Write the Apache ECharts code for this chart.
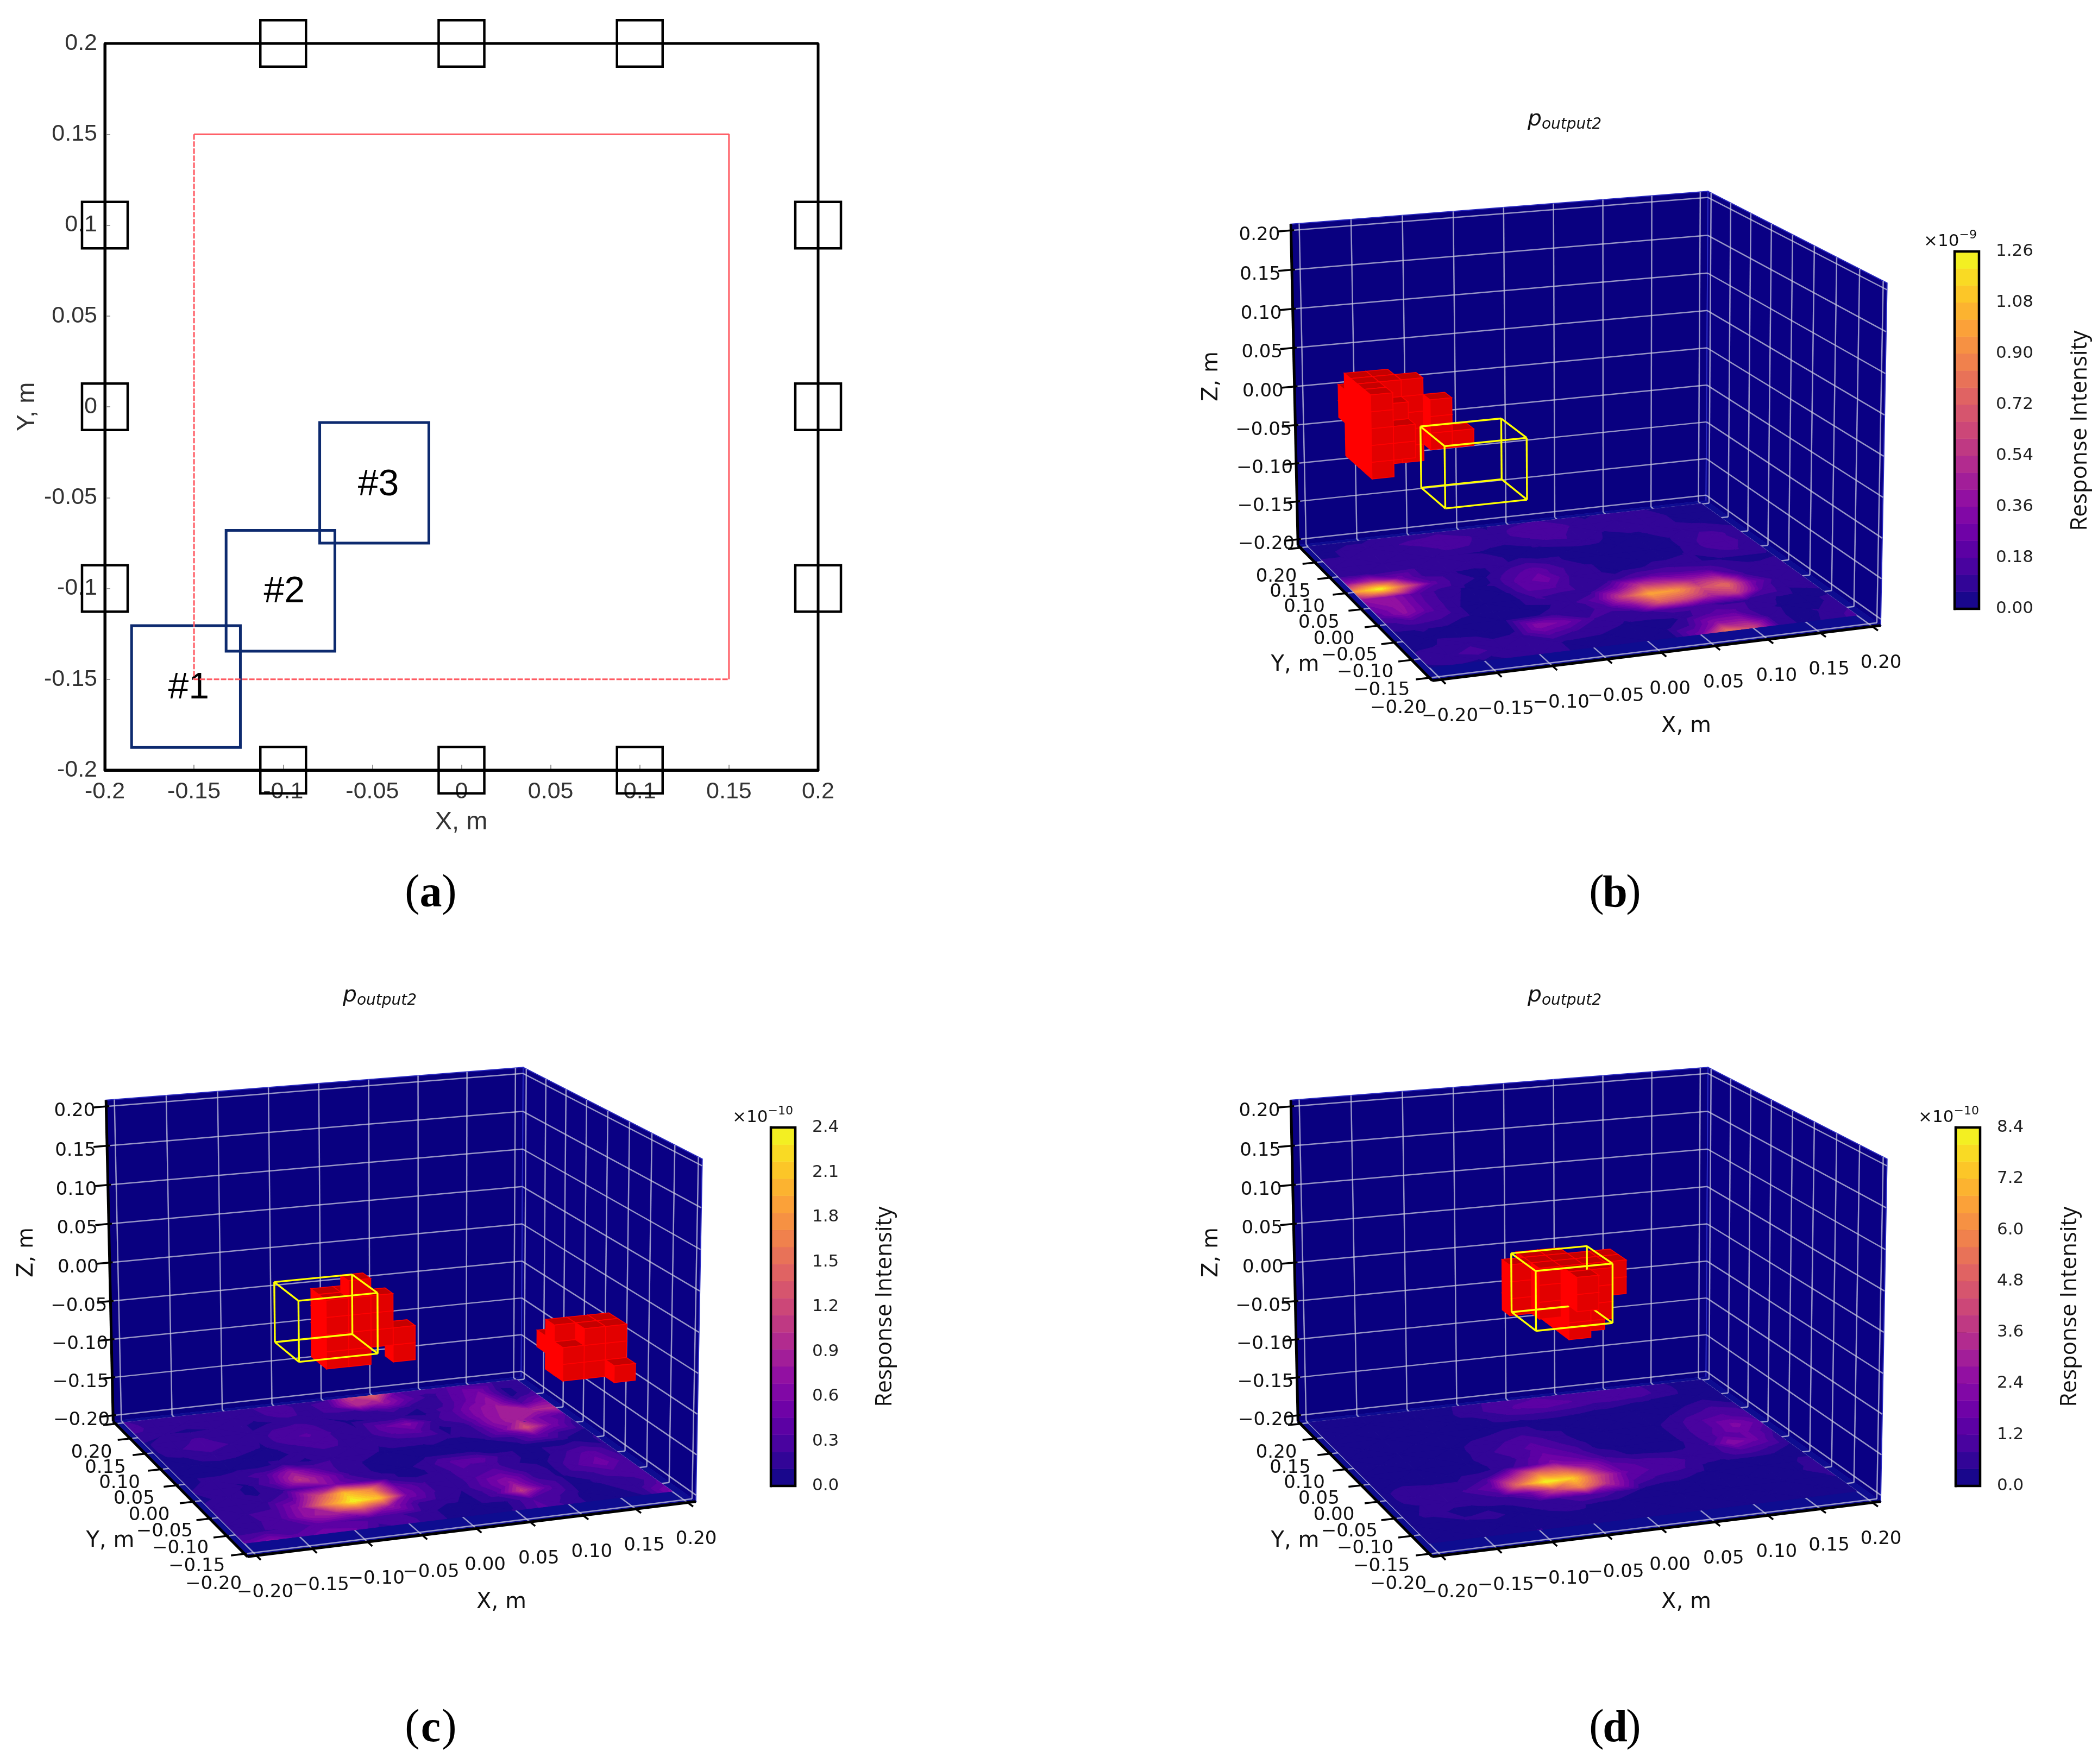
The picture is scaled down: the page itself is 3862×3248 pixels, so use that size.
<!DOCTYPE html>
<html>
<head>
<meta charset="utf-8">
<title>Response intensity</title>
<script src="https://cdn.jsdelivr.net/npm/echarts@6/dist/echarts.min.js"></script>
<style>
html,body{margin:0;padding:0;background:#fff}
#main{width:3862px;height:3248px}
</style>
</head>
<body>
<div id="main"></div>
<script>
// panel (a): layout seen from above, metres
var planTicks = [-0.2, -0.15, -0.1, -0.05, 0, 0.05, 0.1, 0.15, 0.2];
var sensorCentres = [[-0.1, 0.2], [0, 0.2], [0.1, 0.2], [-0.1, -0.2], [0, -0.2], [0.1, -0.2],
    [-0.2, 0.1], [-0.2, 0], [-0.2, -0.1], [0.2, 0.1], [0.2, 0], [0.2, -0.1]];
var sensorSize = 0.0256;
var frameLine = [[-0.2, -0.2], [-0.2, 0.2], [0.2, 0.2], [0.2, -0.2], [-0.2, -0.2]];
var scanSolid = [[-0.15, 0.15], [0.15, 0.15], [0.15, -0.15]];
var scanDashed = [[-0.15, 0.15], [-0.15, -0.15], [0.15, -0.15]];
var targetRects = [[-0.185, -0.124, -0.1875, -0.1205], [-0.132, -0.071, -0.1345, -0.068], [-0.0795, -0.0183, -0.075, -0.0087]];
var targetNames = ['#1', '#2', '#3'];
var targetNamePos = [[-0.153, -0.1548], [-0.0994, -0.102], [-0.0466, -0.0432]];

// 3D panels: axis ticks and floor sample lines
var ticks3d = [-0.2, -0.15, -0.1, -0.05, 0, 0.05, 0.1, 0.15, 0.2];
var floorX = [-0.2, -0.175, -0.15, -0.125, -0.1, -0.075, -0.05, -0.025, 0, 0.025, 0.05, 0.075, 0.1, 0.125, 0.15, 0.175, 0.2];
var floorY = [0.2, 0.175, 0.15, 0.125, 0.1, 0.075, 0.05, 0.025, 0, -0.025, -0.05, -0.075, -0.1, -0.125, -0.15, -0.175];

// floor response, % of the colour bar top, rows follow floorY
var floorB = [
    [3,4,4,6,7,8,6,4,8,10,8,4,6,6,4,2,2],
    [4,5,6,9,11,14,10,6,12,14,10,6,8,7,5,3,2],
    [5,5,5,6,8,11,9,6,9,12,8,5,8,8,5,3,2],
    [7,7,6,6,6,5,4,3,5,6,7,4,3,6,8,7,4],
    [6,5,7,8,7,8,6,3,3,3,3,2,3,4,9,11,7],
    [30,38,22,8,5,4,6,10,6,3,3,2,3,4,10,13,6],
    [75,100,55,16,6,4,12,18,10,5,4,3,3,5,9,10,6],
    [30,32,16,7,4,5,16,22,9,5,4,5,7,5,4,4,4],
    [22,32,15,6,3,3,15,15,6,6,12,16,14,12,8,5,6],
    [16,30,15,5,2,2,10,7,6,22,46,42,34,36,10,5,8],
    [8,12,10,5,2,2,4,8,18,50,80,76,52,62,22,6,8],
    [4,5,4,3,2,4,6,7,12,30,58,52,38,46,14,5,6],
    [3,4,3,2,4,28,22,10,6,8,12,12,8,8,5,3,4],
    [4,5,8,5,6,16,10,7,4,4,5,14,16,6,4,3,6],
    [6,8,12,6,5,5,4,3,3,3,10,30,30,8,3,5,9],
    [4,5,4,5,5,5,3,2,2,3,22,65,50,8,3,6,12]
];
var floorC = [
    [10,6,6,7,6,9,11,7,9,45,60,15,12,14,12,8,6],
    [12,7,6,6,6,8,13,6,14,40,35,18,7,16,24,4,6],
    [7,5,4,5,5,4,7,5,7,7,12,5,8,18,30,4,12],
    [4,8,10,8,5,10,12,8,4,5,5,4,12,26,34,14,26],
    [4,9,13,9,5,13,15,9,5,18,26,8,12,28,36,38,40],
    [3,5,8,6,4,9,12,9,6,14,16,3,8,28,38,22,14],
    [3,3,4,3,3,6,9,8,5,6,7,5,7,22,52,24,6],
    [3,3,3,3,6,4,8,6,4,4,4,4,4,8,20,8,4],
    [3,6,8,12,32,14,7,4,3,3,3,3,3,3,3,3,5],
    [5,9,4,16,44,26,7,4,3,8,16,16,6,3,6,10,5],
    [4,6,4,8,16,24,14,6,3,6,14,12,5,3,10,18,8],
    [6,8,7,16,50,85,70,20,10,5,14,20,8,4,14,22,10],
    [7,9,10,30,70,100,85,24,10,5,16,30,10,4,8,14,10],
    [6,8,14,32,38,50,32,10,6,4,12,45,16,4,5,8,12],
    [8,9,10,16,14,12,10,6,3,3,4,14,10,3,4,6,16],
    [16,26,16,22,20,8,12,6,3,3,5,16,8,3,3,5,26]
];
var floorD = [
    [2,2,2,2,2,2,6,10,13,14,12,11,12,12,6,3,2],
    [2,2,2,2,2,3,7,11,15,18,15,12,13,12,7,3,2],
    [2,2,2,2,2,2,3,7,9,9,8,6,5,4,3,2,2],
    [2,2,2,2,2,2,2,3,3,3,2,2,2,2,4,7,3],
    [2,2,2,2,2,3,5,7,4,3,2,2,2,4,8,12,9],
    [2,2,2,2,2,7,9,13,7,3,2,2,3,8,14,16,10],
    [2,2,2,2,2,8,12,16,10,4,2,2,3,9,14,26,16],
    [2,2,2,2,3,7,10,20,14,5,2,2,3,9,16,20,10],
    [2,2,2,2,3,6,14,26,20,9,4,3,4,8,28,20,5],
    [3,6,5,5,10,35,65,60,35,16,12,10,8,8,14,10,4],
    [3,8,7,10,20,65,100,90,50,20,14,12,5,4,4,3,3],
    [2,5,6,8,10,22,50,70,40,14,8,6,3,2,2,4,6],
    [3,6,4,4,5,7,10,14,9,4,2,2,2,2,2,4,8],
    [2,2,5,6,3,5,6,3,2,2,2,2,2,2,2,3,5],
    [2,2,2,2,2,3,3,2,2,2,2,2,2,2,2,2,3],
    [2,2,2,2,5,3,2,2,2,2,2,2,2,2,2,2,2]
];

// red voxels: lattice origin in metres, then [i, j, k] cells
var cubeSize = 0.0205;
var cubeHeight = 0.0207;
var cubeOriginB = [-0.196, 0, -0.047];
var cubesB = [[0,0,0],[0,0,1],[0,0,2],[0,0,3],[0,0,4],[0,1,0],[0,1,1],[0,1,2],[0,1,3],[0,1,4],
    [0,2,0],[0,2,1],[0,2,2],[0,2,3],[0,2,4],[0,3,0],[0,3,1],[0,3,2],[0,3,3],[0,3,4],[0,4,2],[0,4,3],
    [1,0,1],[1,0,2],[1,1,1],[1,1,2],[1,1,3],[1,2,0],[1,2,1],[1,2,2],[1,2,3],[1,2,4],
    [1,3,0],[1,3,1],[1,3,2],[1,3,3],[1,3,4],[2,2,0],[2,2,1],[2,2,2],[2,2,3],[2,2,4],
    [3,1,1],[3,1,2],[3,1,3],[4,1,1]];
var cubeOriginC = [-0.106, -0.12, -0.033];
var cubesC = [[0,0,0],[0,0,1],[0,0,2],[0,0,3],[0,1,0],[0,1,1],[0,1,2],[0,1,3],
    [1,0,0],[1,0,1],[1,0,2],[1,0,3],[1,0,4],[1,1,0],[1,1,1],[1,1,2],[1,1,3],
    [2,0,1],[2,0,2],[2,0,3],[3,0,0],[3,0,1]];
var cubeOriginC2 = [0.116, -0.12, -0.079];
var cubesC2 = [[0,0,0],[0,0,1],[1,0,0],[1,0,1],[1,0,2],[2,0,0],[2,0,1],[2,0,2],[2,-1,0],
    [0,1,0],[0,1,1],[0,1,2],[1,1,0],[1,1,1],[1,1,2],[2,1,0],[2,1,1],[2,1,2],[0,2,1]];
var cubeOriginD = [-0.042, -0.09, -0.017];
var cubesD = [[0,0,0],[0,1,0],[0,2,0],[0,3,0],[1,1,0],
    [0,0,1],[0,0,2],[0,0,3],[0,1,1],[0,1,2],[0,1,3],[0,2,1],[0,2,2],[0,2,3],[0,3,1],[0,3,2],[0,3,3],
    [1,0,1],[1,0,2],[1,0,3],[1,1,1],[1,1,2],[1,1,3],[1,2,1],[1,2,2],[1,2,3],
    [2,1,2],[2,1,3],[2,2,2],[2,2,3],
    [-1,1,1],[-1,1,2],[-1,1,3],[-1,2,1],[-1,2,2],[-1,2,3],[-1,3,1],[-1,3,2],[-1,3,3],
    [-2,2,1],[-2,2,2],[-2,2,3]];
var cubesDFront = [[0,-1,2],[0,-1,3]];

// yellow boxes [x0, x1, y0, y1, z0, z1]
var boxB = [-0.188, -0.115, -0.1875, -0.1205, -0.015, 0.058];
var boxC = [-0.136, -0.064, -0.1345, -0.068, -0.015, 0.058];
var boxD = [-0.0675, 0.0045, -0.075, -0.0087, -0.008, 0.065];

// colour bars
var scaleMaxB = 1.26, scaleStepB = 0.18, scaleMaxC = 2.4, scaleStepC = 0.3, scaleMaxD = 8.4, scaleStepD = 1.2;
var bandCount = 21;
var plasmaStops = ['#0d0887', '#41049d', '#6a00a8', '#8f0da4', '#b12a90', '#cc4778', '#e16462', '#f2844b', '#fca636', '#fcce25', '#f0f921'];

var FONT3D = 'DejaVu Sans';
var PAD = 0.208;
// where the pane corners land on the page (panel d), used to fit the camera
var paneCorners = [[-1,1,1,2376,2025],[1,1,1,3144,1967],[1,-1,1,3474,2133],[-1,1,-1,2389,2620],
    [1,1,-1,3141,2532],[1,-1,-1,3461,2768],[-1,-1,-1,2637,2864]];
var camera = fitCamera(paneCorners);

function fitCamera(pts) {
    var n = 11, m = [], b = [], i, j, k;
    for (i = 0; i < n; i++) { m.push(new Array(n).fill(0)); b.push(0); }
    function add(row, v) {
        for (var r = 0; r < n; r++) {
            b[r] += row[r] * v;
            for (var c = 0; c < n; c++) m[r][c] += row[r] * row[c];
        }
    }
    pts.forEach(function (p) {
        var sx = p[3] / 1000, sy = p[4] / 1000;
        add([p[0], p[1], p[2], 1, 0, 0, 0, 0, -sx * p[0], -sx * p[1], -sx * p[2]], sx);
        add([0, 0, 0, 0, p[0], p[1], p[2], 1, -sy * p[0], -sy * p[1], -sy * p[2]], sy);
    });
    for (i = 0; i < n; i++) {
        var best = i;
        for (j = i + 1; j < n; j++) if (Math.abs(m[j][i]) > Math.abs(m[best][i])) best = j;
        var t = m[i]; m[i] = m[best]; m[best] = t;
        t = b[i]; b[i] = b[best]; b[best] = t;
        for (j = i + 1; j < n; j++) {
            var f = m[j][i] / m[i][i];
            for (k = i; k < n; k++) m[j][k] -= f * m[i][k];
            b[j] -= f * b[i];
        }
    }
    var out = new Array(n).fill(0);
    for (i = n - 1; i >= 0; i--) {
        var s = b[i];
        for (k = i + 1; k < n; k++) s -= m[i][k] * out[k];
        out[i] = s / m[i][i];
    }
    return out;
}
function toPage(panel, x, y, z) {
    var c = camera, X = x / PAD, Y = y / PAD, Z = z / PAD;
    var w = c[8] * X + c[9] * Y + c[10] * Z + 1;
    return [1000 * (c[0] * X + c[1] * Y + c[2] * Z + c[3]) / w + panel.dx,
        1000 * (c[4] * X + c[5] * Y + c[6] * Z + c[7]) / w + panel.dy];
}

// colours
function hexRgb(h) { return [parseInt(h.substr(1, 2), 16), parseInt(h.substr(3, 2), 16), parseInt(h.substr(5, 2), 16)]; }
function plasma(t) {
    var p = t * (plasmaStops.length - 1), i = Math.min(Math.floor(p), plasmaStops.length - 2), f = p - i;
    var a = hexRgb(plasmaStops[i]), b = hexRgb(plasmaStops[i + 1]);
    return 'rgb(' + Math.round(a[0] + (b[0] - a[0]) * f) + ',' + Math.round(a[1] + (b[1] - a[1]) * f) + ',' + Math.round(a[2] + (b[2] - a[2]) * f) + ')';
}
var bandColors = [];
for (var bi = 0; bi < bandCount; bi++) bandColors.push(plasma((bi + 0.5) / bandCount));

// keep the part of a polygon on one side of a level, points are [x, y, value]
function clipLevel(poly, level, above) {
    var out = [];
    for (var i = 0; i < poly.length; i++) {
        var a = poly[i], b = poly[(i + 1) % poly.length];
        var ina = above ? a[2] >= level : a[2] <= level;
        var inb = above ? b[2] >= level : b[2] <= level;
        if (ina) out.push(a);
        if (ina !== inb) {
            var f = (level - a[2]) / (b[2] - a[2]);
            out.push([a[0] + (b[0] - a[0]) * f, a[1] + (b[1] - a[1]) * f, level]);
        }
    }
    return out;
}

function pageSeries(items, draw) {
    return {
        type: 'custom', xAxisIndex: 1, yAxisIndex: 1, silent: true, animation: false, clip: false,
        data: items.map(function (d, i) { return [i, i]; }),
        renderItem: function (params, api) { return draw(items[params.dataIndex], api); }
    };
}
function label(api, x, y, text, size, family, extra) {
    var c = api.coord([x, y]);
    var st = {text: text, x: 0, y: 0, fontSize: size, fontFamily: family, fill: '#111', align: 'center', textAlign: 'center', verticalAlign: 'middle', textVerticalAlign: 'middle'};
    if (extra && extra.rich) st.rich = extra.rich;
    if (extra && extra.fill) st.fill = extra.fill;
    if (extra && extra.weight) st.fontWeight = extra.weight;
    return {type: 'text', x: c[0], y: c[1], rotation: extra && extra.rotation ? extra.rotation : 0, style: st};
}
function tickText(v) { return v.toFixed(2).replace('-', '\u2212'); }

function panelSeries(panel) {
    var out = [];
    var P = function (api, x, y, z) { return api.coord(toPage(panel, x, y, z)); };

    // panes
    var panes = [
        {c: [[-PAD, PAD, PAD], [PAD, PAD, PAD], [PAD, PAD, -PAD], [-PAD, PAD, -PAD]], fill: '#090080', edge: '#2a2ac0'},
        {c: [[PAD, PAD, PAD], [PAD, -PAD, PAD], [PAD, -PAD, -PAD], [PAD, PAD, -PAD]], fill: '#0a0084', edge: '#2a2ac0'},
        {c: [[-PAD, PAD, -PAD], [PAD, PAD, -PAD], [PAD, -PAD, -PAD], [-PAD, -PAD, -PAD]], fill: '#0e0c90', edge: '#0e0c90'}
    ];
    out.push(pageSeries(panes, function (d, api) {
        return {type: 'polygon', shape: {points: d.c.map(function (q) { return P(api, q[0], q[1], q[2]); })},
            style: {fill: d.fill, stroke: d.edge, lineWidth: 2}};
    }));

    // grid lines on the panes
    var grid = [];
    ticks3d.forEach(function (t) {
        grid.push([t, PAD, -PAD, t, PAD, PAD]);
        grid.push([-PAD, PAD, t, PAD, PAD, t]);
        grid.push([PAD, t, -PAD, PAD, t, PAD]);
        grid.push([PAD, PAD, t, PAD, -PAD, t]);
        grid.push([t, -PAD, -PAD, t, PAD, -PAD]);
        grid.push([-PAD, t, -PAD, PAD, t, -PAD]);
    });
    out.push(pageSeries(grid, function (d, api) {
        var a = P(api, d[0], d[1], d[2]), b = P(api, d[3], d[4], d[5]);
        return {type: 'line', shape: {x1: a[0], y1: a[1], x2: b[0], y2: b[1]},
            style: {stroke: 'rgba(205,205,225,0.72)', lineWidth: 2.5}};
    }));

    // filled contours of the floor values
    var cells = [], width = 100 / bandCount, r, c;
    for (r = 0; r < floorY.length - 1; r++) for (c = 0; c < floorX.length - 1; c++) cells.push([r, c]);
    out.push(pageSeries(cells, function (d, api) {
        var r0 = d[0], c0 = d[1], v = panel.floor;
        var a = [floorX[c0], floorY[r0], v[r0][c0]], b = [floorX[c0 + 1], floorY[r0], v[r0][c0 + 1]];
        var e = [floorX[c0 + 1], floorY[r0 + 1], v[r0 + 1][c0 + 1]], f = [floorX[c0], floorY[r0 + 1], v[r0 + 1][c0]];
        var tris = (r0 + c0) % 2 ? [[a, b, e], [a, e, f]] : [[a, b, f], [b, e, f]];
        var kids = [];
        tris.forEach(function (tri) {
            for (var i = 0; i < bandCount; i++) {
                var poly = tri;
                if (i > 0) poly = clipLevel(poly, i * width, true);
                if (poly.length && i < bandCount - 1) poly = clipLevel(poly, (i + 1) * width, false);
                if (poly.length < 3) continue;
                kids.push({type: 'polygon', shape: {points: poly.map(function (q) { return P(api, q[0], q[1], -PAD + 0.0005); })},
                    style: {fill: bandColors[i], stroke: bandColors[i], lineWidth: 1}});
            }
        });
        return {type: 'group', children: kids};
    }));

    // voxels, far ones first
    function cubeSeries(origin, list) {
        var sorted = list.slice().sort(function (p, q) { return (q[0] + q[1] - q[2]) - (p[0] + p[1] - p[2]); });
        return pageSeries(sorted, function (d, api) {
            var x0 = origin[0] + d[0] * cubeSize, x1 = x0 + cubeSize;
            var y0 = origin[1] + d[1] * cubeSize, y1 = y0 + cubeSize;
            var z0 = origin[2] + d[2] * cubeHeight, z1 = z0 + cubeHeight;
            function face(fill, q) {
                return {type: 'polygon', shape: {points: q.map(function (w) { return P(api, w[0], w[1], w[2]); })},
                    style: {fill: fill, stroke: '#ff0000', lineWidth: 1.6}};
            }
            return {type: 'group', children: [
                face('#c40000', [[x0, y0, z1], [x1, y0, z1], [x1, y1, z1], [x0, y1, z1]]),
                face('#ff0000', [[x0, y0, z0], [x0, y1, z0], [x0, y1, z1], [x0, y0, z1]]),
                face('#e20000', [[x0, y0, z0], [x1, y0, z0], [x1, y0, z1], [x0, y0, z1]])
            ]};
        });
    }
    panel.cubes.forEach(function (set) { out.push(cubeSeries(set.origin, set.list)); });

    // yellow target box, back edges can be hidden by the front voxels
    function boxSeries(edges) {
        return pageSeries(edges, function (d, api) {
            var a = P(api, d[0], d[1], d[2]), b = P(api, d[3], d[4], d[5]);
            return {type: 'line', shape: {x1: a[0], y1: a[1], x2: b[0], y2: b[1]}, style: {stroke: '#ffff00', lineWidth: 3.4}};
        });
    }
    var k = panel.box;
    out.push(boxSeries([[k[0], k[3], k[4], k[1], k[3], k[4]], [k[1], k[3], k[4], k[1], k[3], k[5]], [k[1], k[2], k[4], k[1], k[3], k[4]]]));
    if (panel.frontCubes) out.push(cubeSeries(panel.frontCubes.origin, panel.frontCubes.list));
    out.push(boxSeries([
        [k[0], k[2], k[5], k[1], k[2], k[5]], [k[0], k[3], k[5], k[1], k[3], k[5]],
        [k[0], k[2], k[5], k[0], k[3], k[5]], [k[1], k[2], k[5], k[1], k[3], k[5]],
        [k[0], k[2], k[4], k[1], k[2], k[4]], [k[0], k[2], k[4], k[0], k[3], k[4]],
        [k[0], k[2], k[4], k[0], k[2], k[5]], [k[1], k[2], k[4], k[1], k[2], k[5]], [k[0], k[3], k[4], k[0], k[3], k[5]]
    ]));

    // black axes and ticks
    var axes = [[-PAD, PAD, PAD, -PAD, PAD, -PAD, 5], [-PAD, PAD, -PAD, -PAD, -PAD, -PAD, 5], [-PAD, -PAD, -PAD, PAD, -PAD, -PAD, 5]];
    ticks3d.forEach(function (t) {
        axes.push([-PAD + 0.003, PAD, t, -PAD - 0.013, PAD, t, 3.5]);
        axes.push([-PAD + 0.002, t, -PAD, -PAD - 0.012, t, -PAD, 3.5]);
        axes.push([t, -PAD + 0.002, -PAD, t, -PAD - 0.012, -PAD, 3.5]);
    });
    out.push(pageSeries(axes, function (d, api) {
        var a = P(api, d[0], d[1], d[2]), b = P(api, d[3], d[4], d[5]);
        return {type: 'line', shape: {x1: a[0], y1: a[1], x2: b[0], y2: b[1]}, style: {stroke: '#000', lineWidth: d[6]}};
    }));

    // tick labels
    var tl = [];
    ticks3d.forEach(function (t, i) {
        var f = i / (ticks3d.length - 1);
        var px = toPage(panel, t, -PAD, -PAD);
        tl.push([px[0] + 16, px[1] + 68, tickText(t)]);
        var py = toPage(panel, -PAD, t, -PAD);
        tl.push([py[0] - 57 + 13 * f, py[1] + 56 - 2 * f, tickText(t)]);
        var pz = toPage(panel, -PAD, PAD, t);
        tl.push([pz[0] - 58, pz[1] + 9, tickText(t)]);
    });
    out.push(pageSeries(tl, function (d, api) { return label(api, d[0], d[1], d[2], 34, FONT3D); }));

    // axis names, title, colour bar texts
    var names = [
        [3104 + panel.dx, 2951 + panel.dy, 'X, m', 0], [2384 + panel.dx, 2838 + panel.dy, 'Y, m', 0], [2231 + panel.dx, 2306 + panel.dy, 'Z, m', Math.PI / 2]
    ];
    out.push(pageSeries(names, function (d, api) { return label(api, d[0], d[1], d[2], 40, FONT3D, {rotation: d[3]}); }));
    out.push(pageSeries([[2880 + panel.dx, 1833 + panel.dy]], function (d, api) {
        return label(api, d[0], d[1], '{p|p}{s|output2}', 34, FONT3D, {rich: {
            p: {fontSize: 41, fontStyle: 'italic', fontFamily: FONT3D, fill: '#111', lineHeight: 48, verticalAlign: 'middle'},
            s: {fontSize: 28, fontStyle: 'italic', fontFamily: FONT3D, fill: '#111', lineHeight: 48, verticalAlign: 'bottom'}
        }});
    }));
    out.push(pageSeries([[panel.expX, panel.expY, panel.exp]], function (d, api) {
        return label(api, d[0], d[1], '{a|\u00d710}{b|' + d[2] + '}', 30, FONT3D, {rich: {
            a: {fontSize: 31, fontFamily: FONT3D, fill: '#111', lineHeight: 38, verticalAlign: 'bottom'},
            b: {fontSize: 22, fontFamily: FONT3D, fill: '#111', lineHeight: 38, verticalAlign: 'top'}
        }});
    }));
    out.push(pageSeries([[panel.riX, panel.riY]], function (d, api) {
        return label(api, d[0], d[1], 'Response Intensity', 42, 'Open Sans', {rotation: Math.PI / 2});
    }));
    return out;
}

function colourBarSeries(idx) {
    var bands = [];
    for (var i = 0; i < bandCount; i++) bands.push(i);
    return [{
        type: 'custom', xAxisIndex: idx, yAxisIndex: idx, silent: true, animation: false,
        data: bands.map(function (b) { return [b, b]; }),
        renderItem: function (params, api) {
            var max = chartOption.yAxis[idx].max, i = params.dataIndex;
            var a = api.coord([0, max * (i + 1) / bandCount]), b = api.coord([1, max * i / bandCount]);
            return {type: 'rect', shape: {x: a[0], y: a[1], width: b[0] - a[0], height: b[1] - a[1]},
                style: {fill: bandColors[i], stroke: bandColors[i], lineWidth: 0.6}};
        }
    }, {
        type: 'custom', xAxisIndex: idx, yAxisIndex: idx, silent: true, animation: false, z: 5,
        data: [[0, 0]],
        renderItem: function (params, api) {
            var a = api.coord([0, chartOption.yAxis[idx].max]), b = api.coord([1, 0]);
            return {type: 'rect', shape: {x: a[0], y: a[1], width: b[0] - a[0], height: b[1] - a[1]},
                style: {fill: 'none', stroke: '#000', lineWidth: 4.5}};
        }
    }];
}

function barAxis(idx, max, step, digits) {
    return {
        type: 'value', gridIndex: idx, position: 'right', min: 0, max: max, interval: step,
        axisLine: {show: true, lineStyle: {color: '#000', width: 5}},
        axisTick: {show: true, length: 20, lineStyle: {color: '#000', width: 4}},
        splitLine: {show: false},
        axisLabel: {margin: 31, fontSize: 31, fontFamily: 'DejaVu Sans', color: '#222', padding: [8, 0, 0, 0],
            formatter: function (v) { return v.toFixed(digits); }}
    };
}
function hiddenX(idx) { return {type: 'value', gridIndex: idx, min: 0, max: 1, show: false}; }

var panelB = {dx: 0, dy: -1613, floor: floorB, box: boxB, cubes: [{origin: cubeOriginB, list: cubesB}],
    expX: 3590, expY: 441, exp: '\u22129', riX: 3829, riY: 793};
var panelC = {dx: -2181, dy: 0, floor: floorC, box: boxC, cubes: [{origin: cubeOriginC2, list: cubesC2}, {origin: cubeOriginC, list: cubesC}],
    expX: 1404, expY: 2054, exp: '\u221210', riX: 1629, riY: 2406};
var panelD = {dx: 0, dy: 0, floor: floorD, box: boxD, cubes: [{origin: cubeOriginD, list: cubesD}], frontCubes: {origin: cubeOriginD, list: cubesDFront},
    expX: 3587, expY: 2054, exp: '\u221210', riX: 3810, riY: 2406};

// panel (a) marks
var planSeries = [
    {type: 'line', xAxisIndex: 0, yAxisIndex: 0, data: frameLine, showSymbol: false, silent: true, clip: false, animation: false, lineStyle: {color: '#000', width: 5}},
    {type: 'line', xAxisIndex: 0, yAxisIndex: 0, data: scanSolid, showSymbol: false, silent: true, animation: false, lineStyle: {color: '#ff5a62', width: 3}},
    {type: 'line', xAxisIndex: 0, yAxisIndex: 0, data: scanDashed, showSymbol: false, silent: true, animation: false, lineStyle: {color: '#ff5a62', width: 3, type: [10, 3]}},
    {type: 'custom', xAxisIndex: 0, yAxisIndex: 0, silent: true, animation: false, clip: false, data: sensorCentres,
        renderItem: function (params, api) {
            var h = sensorSize / 2, a = api.coord([api.value(0) - h, api.value(1) + h]), b = api.coord([api.value(0) + h, api.value(1) - h]);
            return {type: 'rect', shape: {x: a[0], y: a[1], width: b[0] - a[0], height: b[1] - a[1]}, style: {fill: 'none', stroke: '#000', lineWidth: 4.5}};
        }},
    {type: 'custom', xAxisIndex: 0, yAxisIndex: 0, silent: true, animation: false, clip: false, data: targetRects,
        renderItem: function (params, api) {
            var a = api.coord([api.value(0), api.value(3)]), b = api.coord([api.value(1), api.value(2)]);
            return {type: 'rect', shape: {x: a[0], y: a[1], width: b[0] - a[0], height: b[1] - a[1]}, style: {fill: 'none', stroke: '#0d2a6f', lineWidth: 5}};
        }},
    {type: 'custom', xAxisIndex: 0, yAxisIndex: 0, silent: true, animation: false, clip: false, data: targetNamePos,
        renderItem: function (params, api) {
            return label(api, api.value(0), api.value(1), targetNames[params.dataIndex], 68, 'Liberation Sans', {fill: '#000'});
        }}
];

var planTexts = pageSeries([[849, 1514, 'X, m', 0], [50, 749, 'Y, m', Math.PI / 2]], function (d, api) {
    return label(api, d[0], d[1], d[2], 47, 'Liberation Sans', {rotation: d[3], fill: '#333'});
});
// captions: plain parentheses, bold letter
var captions = pageSeries([[793, 1648, 'a'], [2973, 1648, 'b'], [793, 3185, 'c'], [2973, 3185, 'd']], function (d, api) {
    return {type: 'group', children: [
        label(api, d[0] - 34, d[1] - 3, '(', 82, 'Liberation Serif', {fill: '#000'}),
        label(api, d[0], d[1], d[2], 82, 'Liberation Serif', {fill: '#000', weight: 'bold'}),
        label(api, d[0] + 34, d[1] - 3, ')', 82, 'Liberation Serif', {fill: '#000'})
    ]};
});

var chartOption = {
    backgroundColor: '#fff',
    animation: false,
    grid: [
        {left: 193, top: 80, width: 1313, height: 1338},
        {left: 0, top: 0, width: 3862, height: 3248},
        {left: 3598, top: 463, width: 45, height: 658},
        {left: 1419, top: 2076, width: 45, height: 660},
        {left: 3600, top: 2076, width: 45, height: 660}
    ],
    xAxis: [
        {type: 'value', gridIndex: 0, min: -0.2, max: 0.2, interval: 0.05, splitLine: {show: false},
            axisLine: {onZero: false, lineStyle: {color: '#000', width: 5}},
            axisTick: {inside: true, length: 10, lineStyle: {color: '#999', width: 2}},
            axisLabel: {margin: 19, fontSize: 43, fontFamily: 'Liberation Sans', color: '#333', showMinLabel: true, showMaxLabel: true,
                formatter: function (v) { return String(+v.toFixed(2)); }}},
        {type: 'value', gridIndex: 1, min: 0, max: 3862, show: false},
        hiddenX(2), hiddenX(3), hiddenX(4)
    ],
    yAxis: [
        {type: 'value', gridIndex: 0, min: -0.2, max: 0.2, interval: 0.05, splitLine: {show: false},
            axisLine: {onZero: false, lineStyle: {color: '#000', width: 5}},
            axisTick: {inside: true, length: 10, lineStyle: {color: '#999', width: 2}},
            axisLabel: {margin: 14, fontSize: 43, fontFamily: 'Liberation Sans', color: '#333', showMinLabel: true, showMaxLabel: true,
                formatter: function (v) { return String(+v.toFixed(2)); }}},
        {type: 'value', gridIndex: 1, min: 0, max: 3248, inverse: true, show: false},
        barAxis(2, scaleMaxB, scaleStepB, 2), barAxis(3, scaleMaxC, scaleStepC, 1), barAxis(4, scaleMaxD, scaleStepD, 1)
    ],
    series: [].concat(planSeries, [planTexts, captions], panelSeries(panelB), panelSeries(panelC), panelSeries(panelD),
        colourBarSeries(2), colourBarSeries(3), colourBarSeries(4))
};

var chart = echarts.init(document.getElementById('main'), null, {renderer: 'canvas'});
chart.setOption(chartOption);
</script>
</body>
</html>
